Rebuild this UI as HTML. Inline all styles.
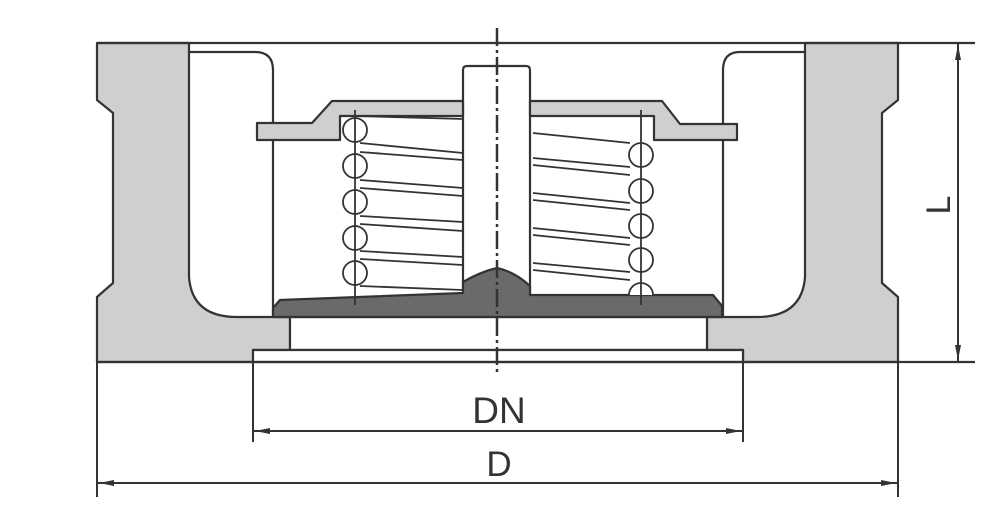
<!DOCTYPE html>
<html><head><meta charset="utf-8"><style>
html,body{margin:0;padding:0;background:#fff;width:1000px;height:520px;overflow:hidden}
svg{display:block}
text{font-family:"Liberation Sans",sans-serif;fill:#333}
</style></head><body>
<svg width="1000" height="520" viewBox="0 0 1000 520" xmlns="http://www.w3.org/2000/svg">
<g stroke="#333" stroke-width="2.2" stroke-linejoin="round">
<!-- left body -->
<path d="M97,43 L189,43 L189,277 Q192,317 237,317 L290,317 L290,350 L253,350 L253,362 L97,362 L97,297 L113,283 L113,113 L97,100 Z" fill="#cfcfcd"/>
<!-- right body -->
<path d="M898,43 L805,43 L805,277 Q802,317 757,317 L707,317 L707,350 L743,350 L743,362 L898,362 L898,297 L882,283 L882,113 L898,100 Z" fill="#cfcfcd"/>
<line x1="97" y1="43" x2="975" y2="43"/>
<path d="M189,52 L255,52 Q273,52 273,70 L273,317" fill="none"/>
<path d="M805,52 L740,52 Q723,52 723,70 L723,317" fill="none"/>
<rect x="290" y="317" width="417" height="33" fill="#fff"/>
<rect x="253" y="350" width="490" height="12" fill="#fff"/>
<line x1="97" y1="362" x2="975" y2="362"/>
<!-- stem -->
<path d="M463,296 L463,70 Q463,66 467,66 L526,66 Q530,66 530,70 L530,296" fill="#fff"/>
<!-- dark disc -->
<path d="M273,317 L273,308 L280,300 L463,293 L463,282 Q480,272 497,268 Q515,272 530,286 L530,295 L713,295 L722,306 L722,317 Z" fill="#6a6a6a"/>
<!-- retainer -->
<path d="M257,123 L312,123 L332,101 L463,101 L463,116 L340,116 L340,140 L257,140 Z" fill="#cfcfcd"/>
<path d="M737,124 L680,124 L662,101 L530,101 L530,116 L654,116 L654,140 L737,140 Z" fill="#cfcfcd"/>
</g>
<g stroke="#333" stroke-width="1.8" fill="#fff">
<path d="M357,116 L463,119 M360,143 L463,153 M360,152 L463,160 M360,180 L463,188 M360,188 L463,196 M360,216 L463,222 M360,224 L463,231 M360,251 L463,257 M360,259 L463,265 M360,286 L463,290" fill="none"/>
<circle cx="355" cy="130" r="12"/><circle cx="355" cy="166" r="12"/><circle cx="355" cy="202" r="12"/><circle cx="355" cy="238" r="12"/><circle cx="355" cy="273" r="12"/>
<line x1="355" y1="110" x2="355" y2="305"/>
<path d="M533,133 L630,143 M533,158 L630,167 M533,165 L630,175 M533,193 L630,203 M533,200 L630,210 M533,228 L630,238 M533,235 L630,245 M533,263 L630,272 M533,270 L630,280" fill="none"/>
<circle cx="641" cy="155" r="12"/><circle cx="641" cy="191" r="12"/><circle cx="641" cy="226" r="12"/><circle cx="641" cy="260" r="12"/>
<path d="M629,295 A12,12 0 0 1 653,295"/>
<line x1="641" y1="110" x2="641" y2="305"/>
</g>
<line x1="497" y1="28" x2="497" y2="376" stroke="#333" stroke-width="2.5" stroke-dasharray="18,4,3,4"/>
<g stroke="#333" stroke-width="2" fill="none">
<line x1="958" y1="43" x2="958" y2="362"/>
<line x1="253" y1="362" x2="253" y2="442"/>
<line x1="743" y1="362" x2="743" y2="442"/>
<line x1="253" y1="431" x2="743" y2="431"/>
<line x1="97" y1="362" x2="97" y2="497"/>
<line x1="898" y1="362" x2="898" y2="497"/>
<line x1="97" y1="483" x2="898" y2="483"/>
</g>
<g fill="#333">
<path d="M958,45 L955,60 L961,60 Z"/>
<path d="M958,360 L955,345 L961,345 Z"/>
<path d="M255,431 L270,428 L270,434 Z"/>
<path d="M741,431 L726,428 L726,434 Z"/>
<path d="M99,483 L114,480 L114,486 Z"/>
<path d="M896,483 L881,480 L881,486 Z"/>
</g>
<text x="499" y="423" font-size="37" text-anchor="middle">DN</text>
<text x="499" y="476" font-size="35" text-anchor="middle">D</text>
<text x="0" y="0" font-size="34" text-anchor="middle" transform="translate(950,205) rotate(-90)">L</text>
</svg>
</body></html>
